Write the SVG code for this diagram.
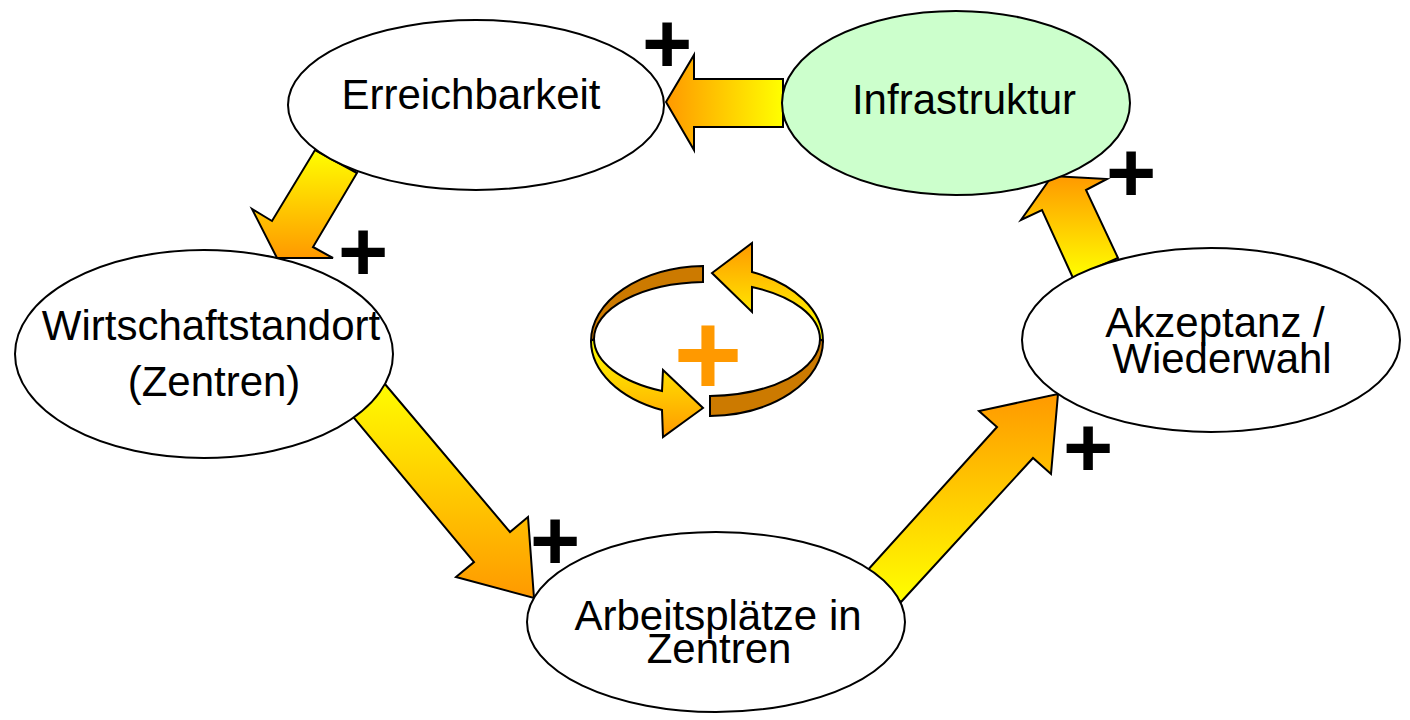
<svg xmlns="http://www.w3.org/2000/svg" width="1410" height="720" viewBox="0 0 1410 720">
<defs>
<linearGradient id="gH" x1="0" y1="0" x2="1" y2="0"><stop offset="0" stop-color="#FF9900"/><stop offset="1" stop-color="#FFFF00"/></linearGradient>
<linearGradient id="gDown" x1="0" y1="0" x2="0" y2="1"><stop offset="0" stop-color="#FFFF00"/><stop offset="1" stop-color="#FF9900"/></linearGradient>
<linearGradient id="gUp" x1="0" y1="0" x2="0" y2="1"><stop offset="0" stop-color="#FF9900"/><stop offset="1" stop-color="#FFFF00"/></linearGradient>
<linearGradient id="gRingTR" gradientUnits="userSpaceOnUse" x1="0" y1="243" x2="0" y2="335"><stop offset="0" stop-color="#FF9900"/><stop offset="1" stop-color="#FFFF00"/></linearGradient>
<linearGradient id="gRingBL" gradientUnits="userSpaceOnUse" x1="0" y1="340" x2="0" y2="437"><stop offset="0" stop-color="#FFFF00"/><stop offset="1" stop-color="#FF9900"/></linearGradient>
</defs>
<style>
.node{fill:#FFFFFF;stroke:#000;stroke-width:2}
.green{fill:#CCFFCC}
.lbl{font-family:"Liberation Sans",Arial,sans-serif;font-size:42px;fill:#000;text-anchor:middle}
.arr{stroke:#000;stroke-width:2;stroke-linejoin:miter}
.ring{stroke:#000;stroke-width:2;stroke-linejoin:miter}
.dark{fill:#CC7A00}
.plus{font-family:"Liberation Sans",Arial,sans-serif;font-weight:bold;font-size:86px;fill:#000;text-anchor:middle}
.plusO{font-family:"Liberation Sans",Arial,sans-serif;font-weight:bold;font-size:118px;fill:#FF9900;text-anchor:middle}
</style>
<rect width="1410" height="720" fill="#FFFFFF"/>
<g id="connectors">
<path class="arr" fill="url(#gH)" d="M783,79 L694,79 L694,55 L666,102 L694,150 L694,127 L783,127 Z"/>
<path class="arr" fill="url(#gDown)" d="M315,150 L357,173 L313,247 L333,258 L277,258 L252,209 L272,221 Z"/>
<path class="arr" fill="url(#gDown)" d="M344,406 L379,377 L510,532 L528,517 L534,598 L456,577 L474,562 Z"/>
<path class="arr" fill="url(#gUp)" d="M866,572 L997,427 L979,411 L1058,394 L1051,474 L1033,458 L901,602 Z"/>
<path class="arr" fill="url(#gUp)" d="M1073,278 L1042,210 L1021,220 L1052,176 L1107,179 L1086,190 L1118,258 Z"/>
</g>
<g id="node-erreichbarkeit">
<ellipse class="node" cx="476" cy="105" rx="188" ry="85"/>
<text class="lbl" x="471" y="109">Erreichbarkeit</text>
</g>
<g id="node-infrastruktur">
<ellipse class="node green" cx="956" cy="103" rx="174" ry="92"/>
<text class="lbl" x="964" y="114">Infrastruktur</text>
</g>
<g id="node-wirtschaftstandort">
<ellipse class="node" cx="204" cy="354" rx="189" ry="104"/>
<text class="lbl" x="211" y="340">Wirtschaftstandort</text>
<text class="lbl" x="214" y="396">(Zentren)</text>
</g>
<g id="node-akzeptanz">
<ellipse class="node" cx="1211" cy="340" rx="189" ry="92"/>
<text class="lbl" x="1215" y="337">Akzeptanz /</text>
<text class="lbl" x="1222" y="373">Wiederwahl</text>
</g>
<g id="node-arbeitsplaetze">
<ellipse class="node" cx="716" cy="622" rx="189" ry="90"/>
<text class="lbl" x="718" y="630">Arbeitsplätze in</text>
<text class="lbl" x="719" y="663">Zentren</text>
</g>
<g id="plus-signs">
<text class="plus" x="667" y="73">+</text>
<text class="plus" x="363" y="281">+</text>
<text class="plus" x="555" y="570">+</text>
<text class="plus" x="1088" y="477">+</text>
<text class="plus" x="1131" y="202">+</text>
</g>
<g id="cycle-symbol">
<path class="ring dark" d="M703,266 A116,75 0 0 0 591,341 L594,339 A113,57 0 0 1 703,282 Z"/>
<path class="ring dark" d="M710,416 A116,75 0 0 0 823,341 L820,339 A113,57 0 0 1 710,396 Z"/>
<path class="ring" fill="url(#gRingBL)" d="M591,341 A116,75 0 0 0 662,410 L663,437 L703,408 L663,370 L662,391 A113,57 0 0 1 594,339 Z"/>
<path class="ring" fill="url(#gRingTR)" d="M823,341 A116,75 0 0 0 752,272 L752,243 L712,273 L752,312 L752,287 A113,57 0 0 1 820,339 Z"/>
<text class="plusO" x="708" y="395">+</text>
</g>
</svg>
